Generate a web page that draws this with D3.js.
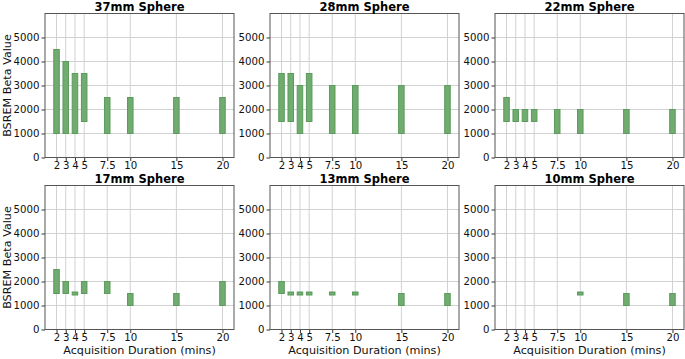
<!DOCTYPE html>
<html><head><meta charset="utf-8">
<script src="https://cdn.jsdelivr.net/npm/d3@7"></script>
<style>body{margin:0;background:#fff}svg{display:block;font-family:"DejaVu Sans",sans-serif}</style>
</head><body><svg id="c" width="685" height="359"></svg>
<script>
const durations = [2, 3, 4, 5, 7.5, 10, 15, 20];
const xTickLabels = ["2", "3", "4", "5", "7.5", "10", "15", "20"];
const yTicks = [0, 1000, 2000, 3000, 4000, 5000];
const titles = ["37mm Sphere", "28mm Sphere", "22mm Sphere", "17mm Sphere", "13mm Sphere", "10mm Sphere"];
// min / max beta per duration (null = no bar)
const low37 = [1000, 1000, 1000, 1500, 1000, 1000, 1000, 1000];
const high37 = [4500, 4000, 3500, 3500, 2500, 2500, 2500, 2500];
const low28 = [1500, 1500, 1000, 1500, 1000, 1000, 1000, 1000];
const high28 = [3500, 3500, 3000, 3500, 3000, 3000, 3000, 3000];
const low22 = [1500, 1500, 1500, 1500, 1000, 1000, 1000, 1000];
const high22 = [2500, 2000, 2000, 2000, 2000, 2000, 2000, 2000];
const low17 = [1500, 1500, 1500, 1500, 1500, 1000, 1000, 1000];
const high17 = [2500, 2000, 1500, 2000, 2000, 1500, 1500, 2000];
const low13 = [1500, 1500, 1500, 1500, 1500, 1500, 1000, 1000];
const high13 = [2000, 1500, 1500, 1500, 1500, 1500, 1500, 1500];
const low10 = [null, null, null, null, null, 1500, 1000, 1000];
const high10 = [null, null, null, null, null, 1500, 1500, 1500];
const lows = [low37, low28, low22, low17, low13, low10];
const highs = [high37, high28, high22, high17, high13, high10];

const svg = d3.select("#c");
const pw = 189, ph = 144;
const lefts = [45, 270, 495], tops = [13.5, 185.5];
const x = d3.scaleLinear().domain([0.75, 21.25]).range([0, pw]);
const y = d3.scaleLinear().domain([0, 6000]).range([ph, 0]);
const barW = 0.6;

titles.forEach((t, i) => {
  const col = i % 3, row = Math.floor(i / 3);
  const g = svg.append("g").attr("transform", `translate(${lefts[col]},${tops[row]})`);
  // grid
  g.append("g").selectAll("line").data(durations).join("line")
    .attr("x1", d => x(d)).attr("x2", d => x(d)).attr("y1", 0).attr("y2", ph)
    .attr("stroke", "#d2d2d2").attr("stroke-width", 1);
  g.append("g").selectAll("line").data(yTicks).join("line")
    .attr("x1", 0).attr("x2", pw).attr("y1", d => y(d)).attr("y2", d => y(d))
    .attr("stroke", "#d2d2d2").attr("stroke-width", 1);
  // range bars
  const data = durations.map((d, k) => ({d, lo: lows[i][k], hi: highs[i][k]})).filter(o => o.lo !== null);
  g.append("g").selectAll("rect").data(data).join("rect")
    .attr("x", o => x(o.d - barW / 2))
    .attr("width", o => x(o.d + barW / 2) - x(o.d - barW / 2))
    .attr("y", o => { const h = y(o.lo) - y(o.hi); return h < 3 ? y(o.hi) - 1.5 : y(o.hi); })
    .attr("height", o => Math.max(3, y(o.lo) - y(o.hi)))
    .attr("fill", "#70ab70").attr("stroke", "#5b9b5b").attr("stroke-width", 1);
  // axes
  const xa = g.append("g").attr("transform", `translate(0,${ph})`)
    .call(d3.axisBottom(x).tickValues(durations).tickFormat((d, k) => xTickLabels[k]).tickSize(3.5).tickPadding(1));
  const ya = g.append("g").call(d3.axisLeft(y).tickValues(yTicks).tickFormat(d3.format("d")).tickSize(3.5).tickPadding(2));
  [xa, ya].forEach(a => {
    a.select(".domain").remove();
    a.selectAll("line").attr("stroke", "#333");
    a.selectAll("text").attr("font-size", 10.2).attr("fill", "#111").attr("font-family", "DejaVu Sans");
  });
  // frame
  g.append("rect").attr("width", pw).attr("height", ph).attr("fill", "none").attr("stroke", "#555").attr("stroke-width", 1);
  g.append("text").attr("x", pw / 2).attr("y", -3).attr("text-anchor", "middle")
    .attr("font-weight", "bold").attr("font-size", 11.5).attr("fill", "#000").text(t);
  if (col === 0) {
    g.append("text").attr("transform", `translate(${-34.5},${ph / 2}) rotate(-90)`)
      .attr("text-anchor", "middle").attr("font-size", 11.2).attr("fill", "#111").text("BSREM Beta Value");
  }
  if (row === 1) {
    g.append("text").attr("x", pw / 2).attr("y", ph + 24).attr("text-anchor", "middle")
      .attr("font-size", 11.2).attr("fill", "#111").text("Acquisition Duration (mins)");
  }
});
</script></body></html>
